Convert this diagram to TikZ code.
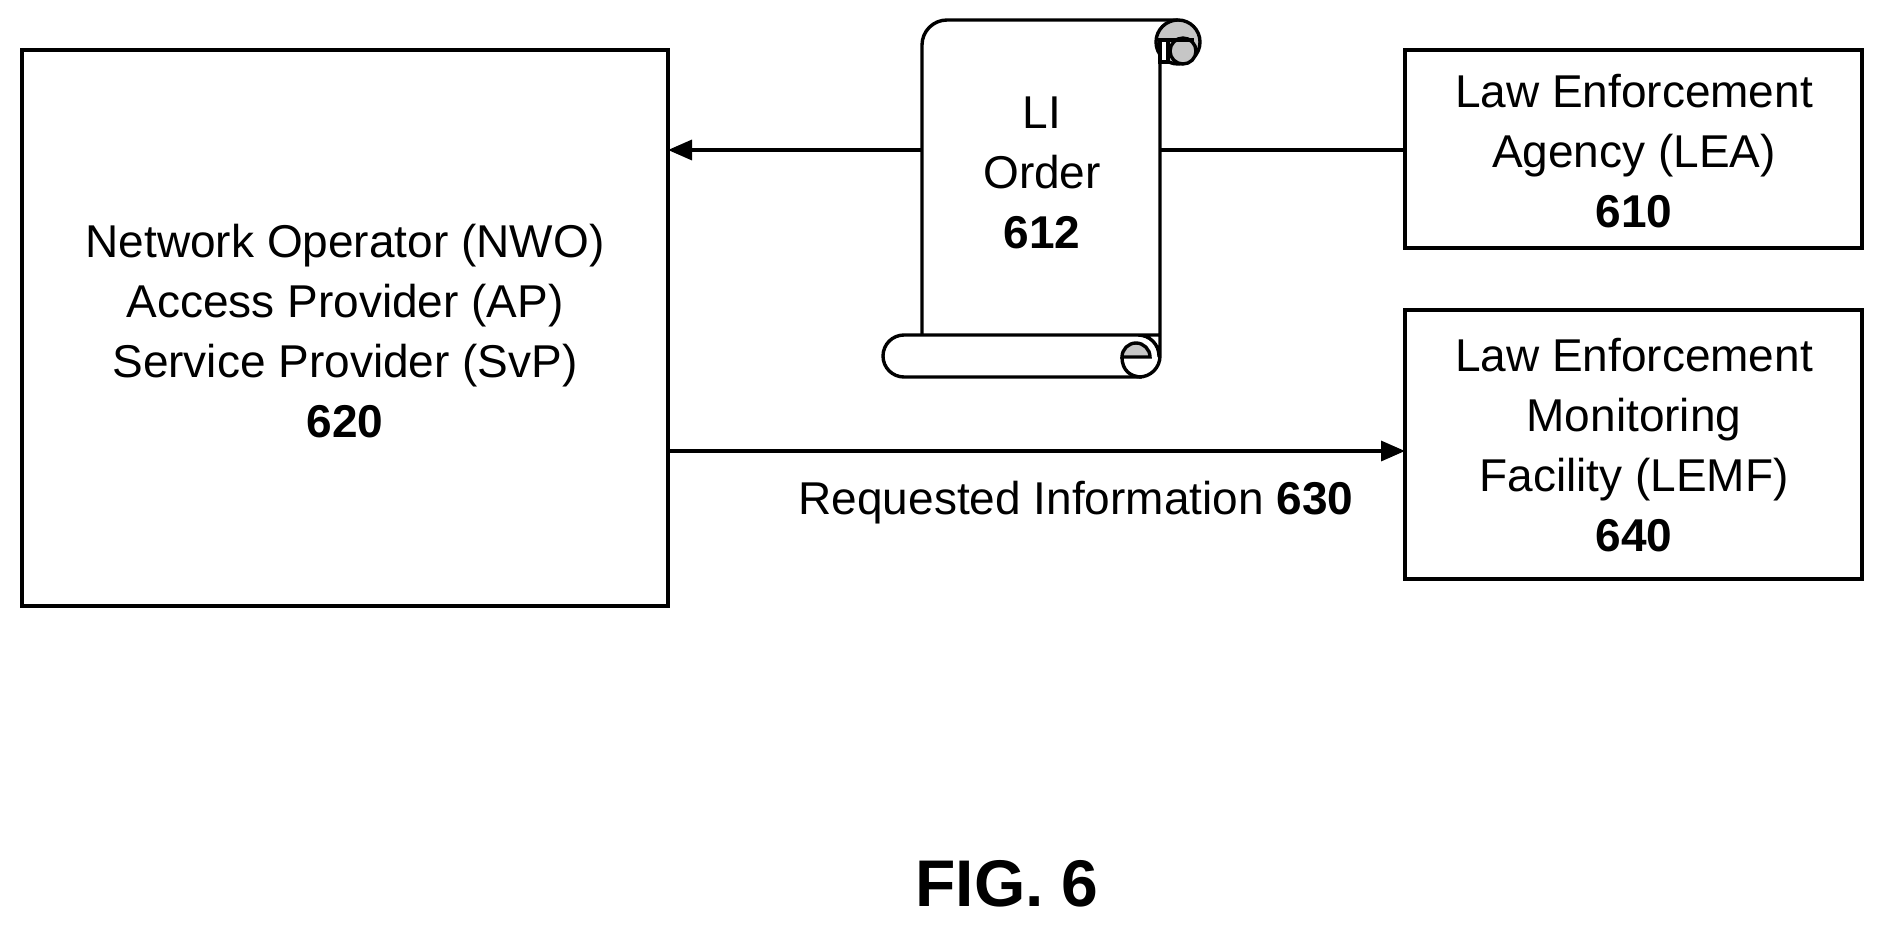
\documentclass[tikz,border=0pt]{standalone}
\usepackage{fontspec}
\setmainfont{Liberation Sans}
\usetikzlibrary{arrows.meta}
\begin{document}
\begin{tikzpicture}[x=1pt,y=-1pt,line width=3.4pt,
  box/.style={draw,line width=3.4pt},
  txt/.style={font=\fontsize{46}{60}\selectfont,align=center,inner sep=0},
  arr/.style={-{Triangle[length=24pt,width=20pt]}},
  curl/.style={fill=gray!45}]
\useasboundingbox (0,0) rectangle (1885,929);
\draw[box] (22,50) rectangle (668,606);
\draw[box] (1405,50) rectangle (1862,248);
\draw[box] (1405,310) rectangle (1862,579);
\node[txt] (nwo) at (345,331) {Network Operator (NWO)\\Access Provider (AP)\\Service Provider (SvP)\\\textbf{620}};
\node[txt] (lea) at (1634,151) {Law Enforcement\\Agency (LEA)\\\textbf{610}};
\node[txt] (lemf) at (1634,445) {Law Enforcement\\Monitoring\\Facility (LEMF)\\\textbf{640}};
\coordinate (nwoT) at (668,150); \coordinate (nwoB) at (668,451);
\coordinate (leaL) at (1405,150); \coordinate (lemfL) at (1405,451);
\coordinate (scL) at (922,150); \coordinate (scR) at (1160,150);
% scroll
\draw[line join=round,rounded corners=25] (922,335) -- (922,20) -- (1178,20);
\draw[curl] (1178,42) circle[radius=22];
\draw[fill=white] (1160,40) rectangle (1168,62);
\draw[curl] (1183,51) circle[radius=13];
\draw (1160,40) -- (1194,40);
\draw[line join=round,fill=white,rounded corners=21] (1160,40) -- (1160,377) -- (883,377) -- (883,335) -- (1138,335) -- (1159,335) -- (1159,357);
\draw[curl] (1122,357) arc[start angle=180,end angle=360,radius=14] -- cycle;
\draw (1122,357) .. controls (1122,370) and (1130,377) .. (1142,377);
\node[txt] (li) at (1042,173) {LI\\Order\\\textbf{612}};
\draw[arr] (scL) -- (nwoT);
\draw (scR) -- (leaL);
\draw[arr] (nwoB) -- (lemfL);
\node[txt] (ri) at (1076,503) {Requested Information \textbf{630}};
\node[font=\fontsize{66}{70}\selectfont\bfseries,inner sep=0] (fig) at (1007,884) {FIG. 6};
\end{tikzpicture}
\end{document}
